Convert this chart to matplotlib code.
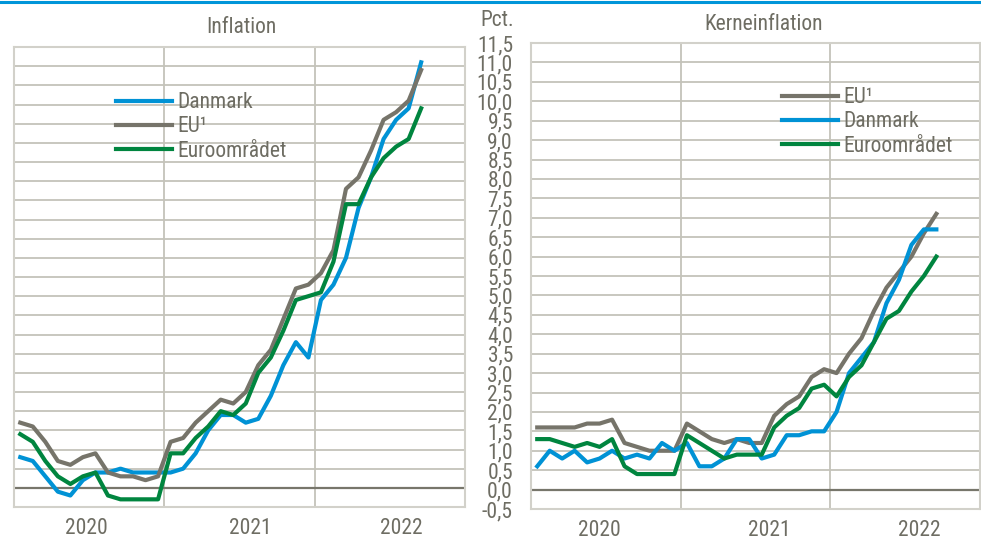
import matplotlib
matplotlib.use("Agg")
import matplotlib.pyplot as plt
from matplotlib.lines import Line2D
from matplotlib import font_manager

cands = {}
for f in font_manager.fontManager.ttflist:
    nm = f.name
    if "Narrow" in nm or "Condensed" in nm or f.stretch in ("condensed", "semi-condensed", "extra-condensed"):
        cands.setdefault(nm, []).append((f.weight, f.style, f.stretch))
narrow = None
for pref in ["Liberation Sans Narrow", "Arial Narrow", "Roboto Condensed", "Open Sans Condensed"]:
    if pref in cands:
        narrow = pref
        break
if narrow is None and cands:
    narrow = sorted(cands)[0]
fams = ([narrow] if narrow else []) + ['Liberation Sans', 'DejaVu Sans']
plt.rcParams['font.family'] = fams
FS = 15.5 if narrow else 12.5

# Months Jan 2020 .. Sep 2022 (33 months)
years = ["2020", "2021", "2022"]

infl_dk = [0.8, 0.7, 0.3, -0.1, -0.2, 0.2, 0.4, 0.4, 0.5, 0.4, 0.4, 0.4,
           0.4, 0.5, 0.9, 1.5, 1.9, 1.9, 1.7, 1.8, 2.4, 3.2, 3.8, 3.4,
           4.9, 5.3, 6.0, 7.3, 8.1, 9.1, 9.6, 9.9, 11.1]
infl_eu = [1.7, 1.6, 1.2, 0.7, 0.6, 0.8, 0.9, 0.4, 0.3, 0.3, 0.2, 0.3,
           1.2, 1.3, 1.7, 2.0, 2.3, 2.2, 2.5, 3.2, 3.6, 4.4, 5.2, 5.3,
           5.6, 6.2, 7.8, 8.1, 8.8, 9.6, 9.8, 10.1, 10.9]
infl_ea = [1.4, 1.2, 0.7, 0.3, 0.1, 0.3, 0.4, -0.2, -0.3, -0.3, -0.3, -0.3,
           0.9, 0.9, 1.3, 1.6, 2.0, 1.9, 2.2, 3.0, 3.4, 4.1, 4.9, 5.0,
           5.1, 5.9, 7.4, 7.4, 8.1, 8.6, 8.9, 9.1, 9.9]

core_eu = [1.6, 1.6, 1.6, 1.6, 1.7, 1.7, 1.8, 1.2, 1.1, 1.0, 1.0, 1.0,
           1.7, 1.5, 1.3, 1.2, 1.3, 1.2, 1.2, 1.9, 2.2, 2.4, 2.9, 3.1,
           3.0, 3.5, 3.9, 4.6, 5.2, 5.6, 6.0, 6.6, 7.1]
core_dk = [0.6, 1.0, 0.8, 1.0, 0.7, 0.8, 1.0, 0.8, 0.9, 0.8, 1.2, 1.0,
           1.2, 0.6, 0.6, 0.8, 1.3, 1.3, 0.8, 0.9, 1.4, 1.4, 1.5, 1.5,
           2.0, 3.0, 3.4, 3.8, 4.8, 5.4, 6.3, 6.7, 6.7]
core_ea = [1.3, 1.3, 1.2, 1.1, 1.2, 1.1, 1.3, 0.6, 0.4, 0.4, 0.4, 0.4,
           1.4, 1.2, 1.0, 0.8, 0.9, 0.9, 0.9, 1.6, 1.9, 2.1, 2.6, 2.7,
           2.4, 2.9, 3.2, 3.8, 4.4, 4.6, 5.1, 5.5, 6.0]

yticks = [-0.5 + 0.5 * k for k in range(25)]
ytick_labels = [f"{v:.1f}".replace(".", ",") for v in yticks]

BLUE = "#0092D5"
GRAY = "#76746A"
GREEN = "#00853F"
TXT = "#6E6D63"
GRID = "#C4C3BA"
FRAME = "#D2D1CA"

fig = plt.figure(figsize=(9.81, 5.41), dpi=100)
fig.patch.set_facecolor("white")

ax1 = fig.add_axes([14/981, 34/541, 451/981, 460/541])
ax2 = fig.add_axes([531/981, 32/541, 449/981, 466/541])

months = list(range(len(infl_dk)))


def style(ax, show_y, year_pos):
    ax.set_xlim(-0.5, 35.5)
    ax.set_ylim(-0.5, 11.5)
    ax.set_yticks(yticks)
    if show_y:
        ax.set_yticklabels(ytick_labels, fontsize=FS, color=TXT)
    else:
        ax.set_yticklabels([])
    ax.tick_params(axis="y", length=0, pad=13)
    ax.set_xticks(year_pos)
    ax.set_xticklabels(years, fontsize=FS, color=TXT)
    ax.tick_params(axis="x", length=0, pad=8)
    for y in yticks:
        if y != 0:
            ax.axhline(y, color=GRID, lw=1.3, zorder=0)
    for x in [11.5, 23.5]:
        ax.axvline(x, color=GRID, lw=1.3, zorder=0)
    ax.axhline(0, color="#77766B", lw=1.6, zorder=1)
    for s in ax.spines.values():
        s.set_color(FRAME)
        s.set_linewidth(1.5)


style(ax1, False, [5.3, 18.4, 30.4])
style(ax2, True, [5.0, 18.6, 30.6])

lw = 3.0
ax1.plot(months, infl_dk, color=BLUE, lw=lw, label="Danmark", zorder=3)
ax1.plot(months, infl_eu, color=GRAY, lw=lw, label="EU¹", zorder=3)
ax1.plot(months, infl_ea, color=GREEN, lw=lw, label="Euroområdet", zorder=3)

ax2.plot(months, core_eu, color=GRAY, lw=lw, label="EU¹", zorder=3)
ax2.plot(months, core_dk, color=BLUE, lw=lw, label="Danmark", zorder=3)
ax2.plot(months, core_ea, color=GREEN, lw=lw, label="Euroområdet", zorder=3)

for ax, loc in [(ax1, (0.227, 0.902)), (ax2, (0.56, 0.905))]:
    leg = ax.legend(loc="upper left", bbox_to_anchor=loc, frameon=False,
                    fontsize=FS, handlelength=2.6,
                    handletextpad=0.25,
                    labelspacing=0.15, borderaxespad=0, borderpad=0)
    for t in leg.get_texts():
        t.set_color(TXT)

ax1.set_title("Inflation", fontsize=FS, color=TXT, pad=10, x=0.505)
ax2.set_title("Kerneinflation", fontsize=FS, color=TXT, pad=9, x=0.517)
fig.text(497/981, 1 - 20/541, "Pct.", fontsize=FS, color=TXT,
         ha="center", va="center")

fig.add_artist(Line2D([0, 1], [1 - 2/541, 1 - 2/541], color="#0095D9",
                      lw=2.2, transform=fig.transFigure))

fig.savefig("out.png", dpi=100)
